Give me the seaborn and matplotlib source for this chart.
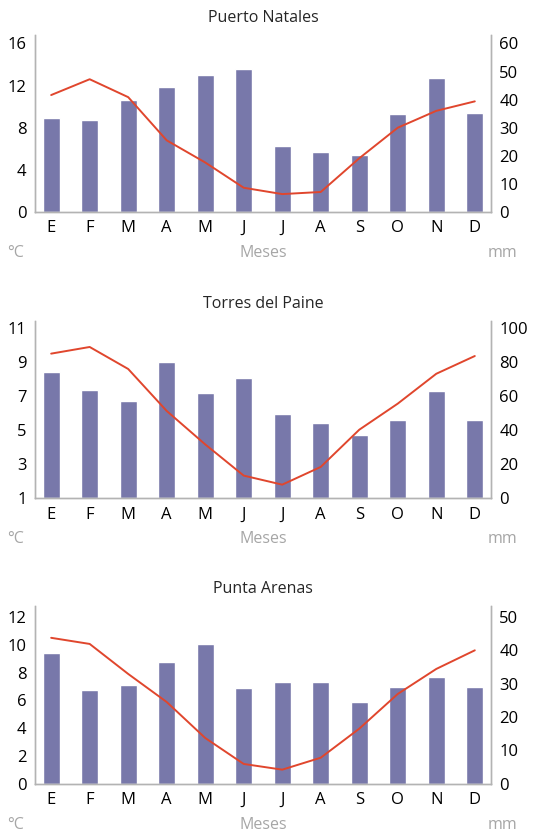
import pandas as pd
import numpy as np
import matplotlib
matplotlib.use('Agg')
import matplotlib.pyplot as plt
import seaborn as sns

sns.set_style('white')
plt.rcParams['font.family'] = ['Open Sans', 'DejaVu Sans']

# data
months = ['E', 'F', 'M', 'A', 'M', 'J', 'J', 'A', 'S', 'O', 'N', 'D']

natales_mm = [33.6, 32.8, 39.9, 44.5, 48.8, 50.9, 23.5, 21.4, 20.4, 34.9, 47.7, 35.3]
natales_temp = [11.1, 12.6, 10.9, 6.8, 4.7, 2.3, 1.7, 1.9, 5.1, 8.0, 9.6, 10.5]

paine_mm = [74.0, 63.5, 57.0, 79.9, 61.7, 70.5, 49.4, 44.1, 37.1, 45.9, 62.9, 45.9]
paine_temp = [9.48, 9.87, 8.58, 6.12, 4.16, 2.33, 1.80, 2.84, 5.02, 6.55, 8.30, 9.34]

arenas_mm = [39.2, 28.1, 29.6, 36.5, 41.9, 28.7, 30.5, 30.5, 24.5, 29.0, 32.0, 29.0]
arenas_temp = [10.5, 10.06, 7.9, 5.88, 3.29, 1.42, 1.01, 1.87, 3.96, 6.46, 8.26, 9.6]

# title, mm values, temp values, temp ticks, mm ticks, temp ylim, mm ylim
stations = [
    ('Puerto Natales', natales_mm, natales_temp, [0, 4, 8, 12, 16], [0, 10, 20, 30, 40, 50, 60], (0, 16.8), (0, 63)),
    ('Torres del Paine', paine_mm, paine_temp, [1, 3, 5, 7, 9, 11], [0, 20, 40, 60, 80, 100], (1, 11.41), (0, 104.1)),
    ('Punta Arenas', arenas_mm, arenas_temp, [0, 2, 4, 6, 8, 10, 12], [0, 10, 20, 30, 40, 50], (0, 12.79), (0, 53.3)),
]

bar_color = '#7878aa'
line_color = '#e0462d'
gray_text = '#a6a6a6'
spine_color = '#b3b3b3'

fig = plt.figure(figsize=(5.4, 8.33), dpi=100)
# axes positions in figure fractions (left, bottom, width, height)
positions = [
    [0.0648, 0.7455, 0.8444, 0.2125],
    [0.0648, 0.4018, 0.8444, 0.2132],
    [0.0648, 0.0592, 0.8444, 0.2133],
]

for pos, (title, mm, temp, tticks, mticks, tlim, mlim) in zip(positions, stations):
    df = pd.DataFrame({'pos': np.arange(12), 'mm': mm, 'temp': temp})

    ax = fig.add_axes(pos)
    sns.barplot(data=df, x='pos', y='mm', color=bar_color, width=0.45,
                saturation=1, ax=ax)
    ax.set_xlabel('')
    ax.set_ylabel('')

    # temperature on a twin axis, its scale shown on the left
    ax2 = ax.twinx()
    sns.lineplot(data=df, x='pos', y='temp', color=line_color, linewidth=1.4, ax=ax2)
    ax2.set_ylabel('')

    ax.yaxis.tick_right()
    ax2.yaxis.tick_left()
    ax.set_ylim(mlim)
    ax.set_yticks(mticks)
    ax2.set_ylim(tlim)
    ax2.set_yticks(tticks)
    ax.set_xlim(-0.42, 11.42)
    ax2.set_xlim(-0.42, 11.42)
    ax.set_xticks(range(12))
    ax.set_xticklabels(months)

    for a in (ax, ax2):
        a.tick_params(axis='both', length=0, labelsize=12, colors='black', pad=6)
        a.spines['top'].set_visible(False)
        for side in ['left', 'right', 'bottom']:
            a.spines[side].set_color(spine_color)
            a.spines[side].set_linewidth(1)

    ax.text(0.5, 1 + 17 / 177, title, transform=ax.transAxes, ha='center',
            va='center', fontsize=11.5)
    ax.text(-0.061, -41 / 177, '°C', transform=ax.transAxes, ha='left',
            va='center', fontsize=11.5, color=gray_text)
    ax.text(0.5, -41 / 177, 'Meses', transform=ax.transAxes, ha='center',
            va='center', fontsize=11.5, color=gray_text)
    ax.text(1.059, -41 / 177, 'mm', transform=ax.transAxes, ha='right',
            va='center', fontsize=11.5, color=gray_text)

fig.savefig('out.png', dpi=100)
